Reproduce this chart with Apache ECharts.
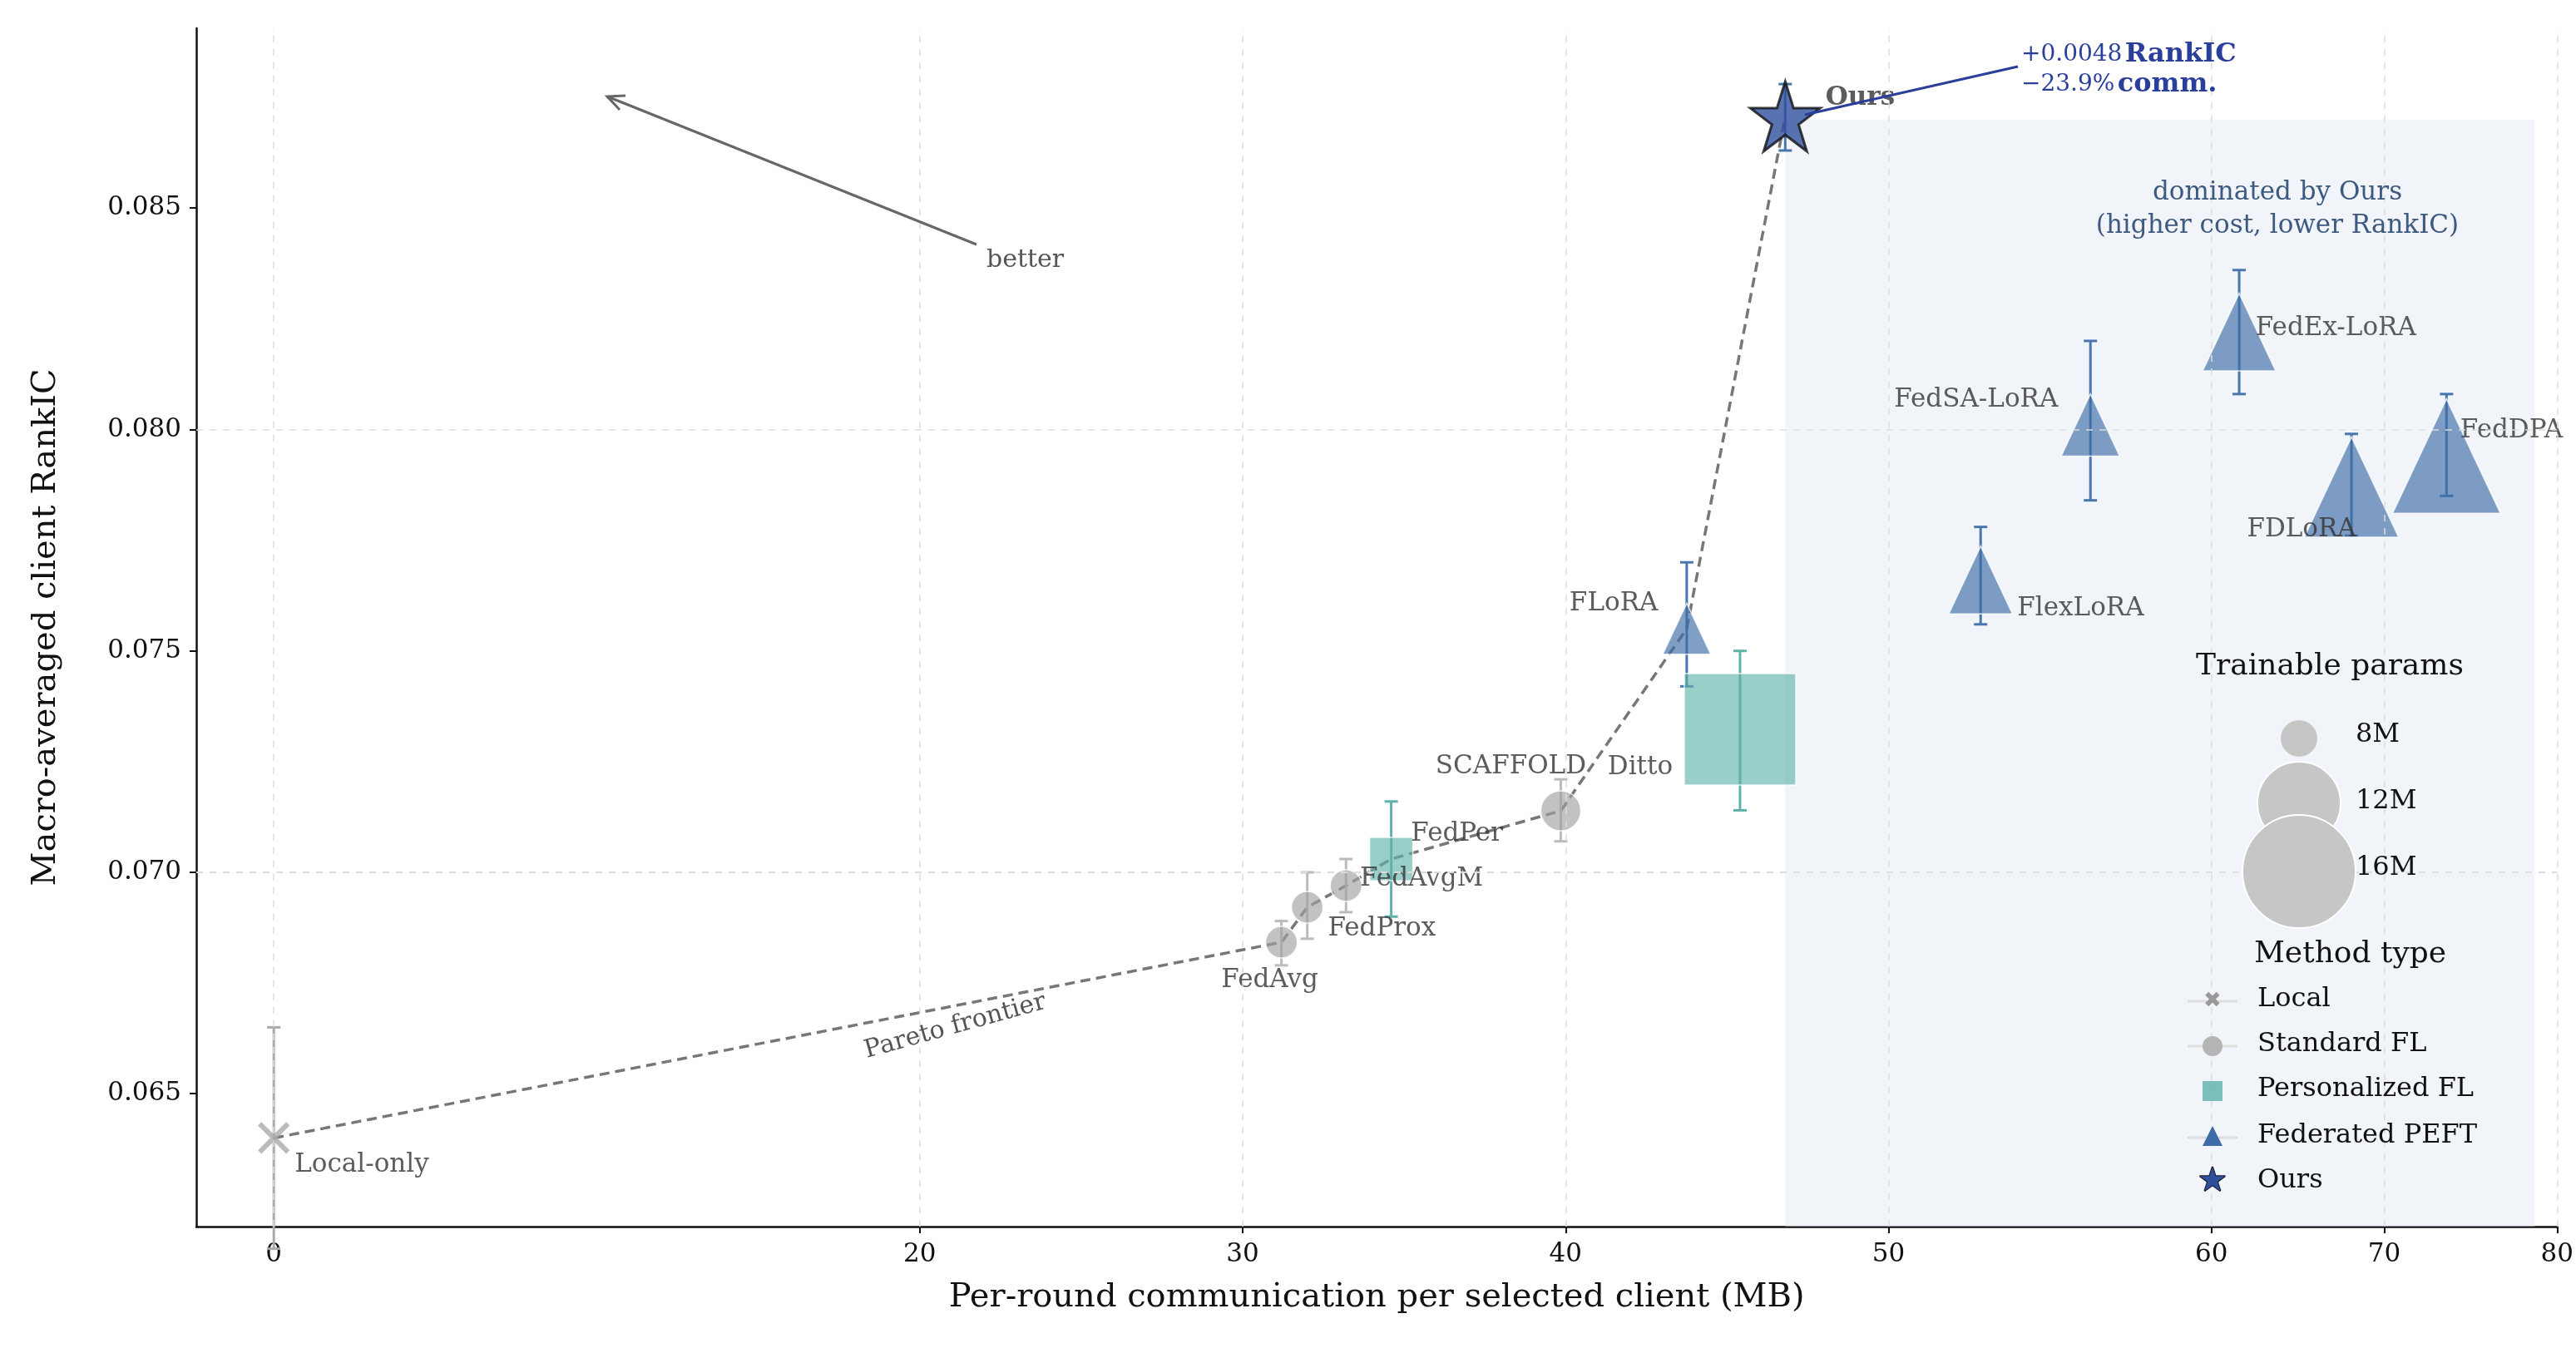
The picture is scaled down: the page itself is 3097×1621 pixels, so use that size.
<!DOCTYPE html>
<html><head><meta charset="utf-8">
<script src="https://cdn.jsdelivr.net/npm/echarts@6/dist/echarts.min.js"></script>
<style>html,body{margin:0;background:#fff}#c{width:3097px;height:1621px}</style>
</head><body><div id="c"></div>
<script>
// x axis is piecewise: 0-60 MB normal, 60-80 MB compressed
const tx = v => v <= 60 ? v : 60 + (v - 60) * 0.535
const itx = t => t <= 60 ? t : 60 + (t - 60) / 0.535

const xTicks = [0, 20, 30, 40, 50, 60, 70, 80]
const yTicks = [0.065, 0.070, 0.075, 0.080, 0.085]

// name, comm (MB), rankIC, errLo, errHi, size
const localOnly = [['Local-only', 0, 0.0640, 0.0615, 0.0665, 34]]
const standardFL = [
  ['FedAvg', 31.2, 0.06842, 0.0679, 0.0689, 38],
  ['FedProx', 32.0, 0.06921, 0.0685, 0.0700, 38],
  ['FedAvgM', 33.2, 0.0697, 0.0691, 0.0703, 38],
  ['SCAFFOLD', 39.85, 0.07139, 0.0707, 0.0721, 48]
]
const personalizedFL = [
  ['FedPer', 34.6, 0.0703, 0.0690, 0.0716, 52],
  ['Ditto', 45.4, 0.07323, 0.0714, 0.0750, 134]
]
const federatedPEFT = [
  ['FLoRA', 43.75, 0.0755, 0.0742, 0.0770, 72],
  ['FlexLoRA', 52.85, 0.0766, 0.0756, 0.0778, 96],
  ['FedSA-LoRA', 56.25, 0.0801, 0.0784, 0.0820, 88],
  ['FedEx-LoRA', 61.6, 0.0822, 0.0808, 0.0836, 110],
  ['FDLoRA', 68.1, 0.0787, 0.0776, 0.0799, 142],
  ['FedDPA', 73.6, 0.0794, 0.0785, 0.0808, 162]
]
const ours = [['Ours', 46.8, 0.08707, 0.0863, 0.0878, 84]]
const pareto = ['Local-only', 'FedAvg', 'FedProx', 'FedAvgM', 'FedPer', 'SCAFFOLD', 'FLoRA', 'Ours']

const labelPos = {
  'Local-only': ['right', [0, 32]], 'FedAvg': ['bottom', [-14, 6]], 'FedProx': ['right', [0, 26]],
  'FedAvgM': ['right', [-8, -8]], 'FedPer': ['right', [-8, -30]], 'SCAFFOLD': ['top', [-60, -8]],
  'Ditto': ['left', [-8, 46]], 'FLoRA': ['left', [0, -30]], 'FlexLoRA': ['right', [0, 34]],
  'FedSA-LoRA': ['left', [2, -30]], 'FedEx-LoRA': ['right', [-30, -4]], 'FDLoRA': ['bottom', [-60, -30]],
  'FedDPA': ['right', [-54, -30]], 'Ours': ['right', [0, -22]]
}
const FONT = 'DejaVu Serif'
const all = [].concat(localOnly, standardFL, personalizedFL, federatedPEFT, ours)
const byName = {}
all.forEach(d => byName[d[0]] = d)

function pts(list, triangle) {
  return list.map(d => ({
    value: [tx(d[1]), d[2]],
    symbolSize: triangle ? [d[5] * 0.8, d[5] * 0.85] : d[5],
    label: {show: true, formatter: d[0], position: labelPos[d[0]][0], offset: labelPos[d[0]][1],
      fontFamily: FONT, fontSize: 31, color: '#333',
      fontWeight: d[0] === 'Ours' ? 'bold' : 'normal'}
  }))
}
function errSeries(list, color) {
  return {
    type: 'custom', z: 1,
    data: list.map(d => [tx(d[1]), d[3], d[4]]),
    renderItem: function(params, api) {
      const lo = api.coord([api.value(0), api.value(1)])
      const hi = api.coord([api.value(0), api.value(2)])
      const st = {stroke: color, lineWidth: 3}
      return {type: 'group', children: [
        {type: 'line', shape: {x1: lo[0], y1: lo[1], x2: hi[0], y2: hi[1]}, style: st},
        {type: 'line', shape: {x1: lo[0] - 8, y1: lo[1], x2: lo[0] + 8, y2: lo[1]}, style: st},
        {type: 'line', shape: {x1: hi[0] - 8, y1: hi[1], x2: hi[0] + 8, y2: hi[1]}, style: st}
      ]}
    }
  }
}

const grey = 'rgba(160,160,160,0.8)', teal = 'rgba(95,178,170,0.8)', blue = 'rgba(61,108,166,0.82)'
const gridLine = {lineStyle: {color: '#ddd', type: [8, 8], width: 1.5}}
const T = (left, top, text, font, fill) => ({type: 'text', z: 100, left: left, top: top,
  style: {text: text, font: font || '32px "DejaVu Serif"', fill: fill || '#111'}})

const chart = echarts.init(document.getElementById('c'))
chart.setOption({
  animation: false,
  grid: {left: 236, right: 14, top: 34, bottom: 146},
  xAxis: {
    type: 'value', min: tx(-2.4), max: tx(80),
    name: 'Per-round communication per selected client (MB)', nameLocation: 'middle', nameGap: 66,
    nameTextStyle: {fontFamily: FONT, fontSize: 40, color: '#111'},
    axisLine: {onZero: false, lineStyle: {color: '#111', width: 2.5}},
    axisTick: {customValues: xTicks.map(tx), length: 8, lineStyle: {color: '#111', width: 2}},
    axisLabel: {customValues: xTicks.map(tx), fontFamily: FONT, fontSize: 31, color: '#111', margin: 18,
      formatter: v => Math.round(itx(v))},
    splitLine: {show: false}
  },
  yAxis: {
    type: 'value', min: 0.0620, max: 0.08906,
    name: 'Macro-averaged client RankIC', nameLocation: 'middle', nameGap: 160,
    nameTextStyle: {fontFamily: FONT, fontSize: 40, color: '#111'},
    axisLine: {show: true, onZero: false, lineStyle: {color: '#111', width: 2.5}},
    axisTick: {show: true, customValues: yTicks, length: 8, lineStyle: {color: '#111', width: 2}},
    axisLabel: {customValues: yTicks, fontFamily: FONT, fontSize: 31, color: '#111', margin: 18,
      formatter: v => v.toFixed(3)},
    splitLine: {show: false}
  },
  series: [
    {
      type: 'line', z: 0, silent: true, symbol: 'none',
      data: pareto.map(n => [tx(byName[n][1]), byName[n][2]]),
      lineStyle: {color: '#777', width: 3.5, type: [12, 7]},
      markArea: {silent: true, itemStyle: {color: 'rgba(225,232,241,0.45)'},
        data: [[{coord: [tx(46.8), 0.0870]}, {coord: [tx(78.7), 0.0620]}]]},
      markLine: {silent: true, symbol: 'none', label: {show: false},
        data: xTicks.map(v => ({xAxis: tx(v), lineStyle: gridLine.lineStyle}))
          .concat(yTicks.map(v => ({yAxis: v, lineStyle: gridLine.lineStyle})))}
    },
    errSeries(localOnly, '#aaa'), errSeries(standardFL, '#bbb'),
    errSeries(personalizedFL, '#5fb2aa'), errSeries(federatedPEFT, '#4a76ad'), errSeries(ours, '#4a76ad'),
    {type: 'scatter', z: 3, symbol: 'path://M0,0L10,10M10,0L0,10', data: pts(localOnly),
      itemStyle: {color: 'none', borderColor: '#aaa', borderWidth: 6}},
    {type: 'scatter', z: 3, symbol: 'circle', data: pts(standardFL),
      itemStyle: {color: grey, borderColor: '#fff', borderWidth: 1.5}},
    {type: 'scatter', z: 3, symbol: 'rect', data: pts(personalizedFL),
      itemStyle: {color: teal, borderColor: '#fff', borderWidth: 1.5}},
    {type: 'scatter', z: 3, symbol: 'triangle', data: pts(federatedPEFT, true),
      itemStyle: {color: blue, borderColor: '#fff', borderWidth: 1.5}},
    {type: 'scatter', z: 4, symbol: 'path://M50,0L61.8,36.2L100,36.2L69.1,58.6L80.9,95.1L50,72.7L19.1,95.1L30.9,58.6L0,36.2L38.2,36.2Z',
      data: pts(ours), itemStyle: {color: '#2f4f9e', borderColor: '#111', borderWidth: 3}}
  ],
  graphic: [
    // better arrow
    {type: 'line', z: 100, shape: {x1: 1174, y1: 294, x2: 730, y2: 116}, style: {stroke: '#666', lineWidth: 3}},
    {type: 'polyline', z: 100, shape: {points: [[745, 132], [730, 116], [752, 115]]}, style: {stroke: '#666', lineWidth: 3, fill: null}},
    T(1186, 298, 'better', '30px "DejaVu Serif"', '#555'),
    // ours annotation
    {type: 'line', z: 100, shape: {x1: 2170, y1: 138, x2: 2426, y2: 80}, style: {stroke: '#2a3f9a', lineWidth: 3}},
    {type: 'text', z: 100, left: 2430, top: 48, style: {
      text: '{n|+0.0048} {b|RankIC}\n{n|\u221223.9%} {b|comm.}',
      rich: {n: {font: '28px "DejaVu Serif"', fill: '#2a3f9a'}, b: {font: 'bold 32px "DejaVu Serif"', fill: '#2a3f9a'}},
      lineHeight: 36}},
    {type: 'text', z: 100, x: 2738, y: 212, style: {text: 'dominated by Ours\n(higher cost, lower RankIC)',
      font: '31px "DejaVu Serif"', fill: '#3e5a80', align: 'center', lineHeight: 40}},
    // pareto label
    {type: 'text', z: 100, x: 1036, y: 1250, rotation: 0.27, style: {text: 'Pareto frontier', font: '30px "DejaVu Serif"', fill: '#555'}},
    // size legend
    T(2640, 784, 'Trainable params', '36px "DejaVu Serif"'),
    {type: 'circle', z: 100, shape: {cx: 2764, cy: 888, r: 22}, style: {fill: '#c6c6c6'}},
    {type: 'circle', z: 100, shape: {cx: 2764, cy: 966, r: 50}, style: {fill: '#c6c6c6', stroke: '#fff', lineWidth: 2}},
    {type: 'circle', z: 100, shape: {cx: 2764, cy: 1048, r: 68}, style: {fill: '#c6c6c6', stroke: '#fff', lineWidth: 2}},
    T(2832, 868, '8M'), T(2832, 948, '12M'), T(2832, 1028, '16M'),
    // type legend
    T(2710, 1130, 'Method type', '36px "DejaVu Serif"'),
    {type: 'line', z: 100, shape: {x1: 2630, y1: 1204, x2: 2690, y2: 1204}, style: {stroke: '#ddd', lineWidth: 3}},
    {type: 'text', z: 100, x: 2660, y: 1204, style: {text: '\u2716', font: '26px "DejaVu Sans"', fill: '#999', align: 'center', verticalAlign: 'middle'}},
    {type: 'line', z: 100, shape: {x1: 2630, y1: 1258, x2: 2690, y2: 1258}, style: {stroke: '#ddd', lineWidth: 3}},
    {type: 'circle', z: 100, shape: {cx: 2660, cy: 1258, r: 12}, style: {fill: '#b5b5b5'}},
    {type: 'rect', z: 100, shape: {x: 2648, y: 1300, width: 24, height: 24}, style: {fill: teal}},
    {type: 'line', z: 100, shape: {x1: 2630, y1: 1368, x2: 2690, y2: 1368}, style: {stroke: '#ddd', lineWidth: 3}},
    {type: 'polygon', z: 100, shape: {points: [[2660, 1354], [2672, 1378], [2648, 1378]]}, style: {fill: '#3d6ca6'}},
    {type: 'text', z: 100, x: 2660, y: 1422, style: {text: '\u2605', font: '40px "DejaVu Sans"', fill: '#2f4f9e', stroke: '#111', lineWidth: 2, align: 'center', verticalAlign: 'middle'}},
    T(2714, 1186, 'Local'), T(2714, 1240, 'Standard FL'), T(2714, 1294, 'Personalized FL'),
    T(2714, 1350, 'Federated PEFT'), T(2714, 1404, 'Ours')
  ]
})
</script></body></html>
